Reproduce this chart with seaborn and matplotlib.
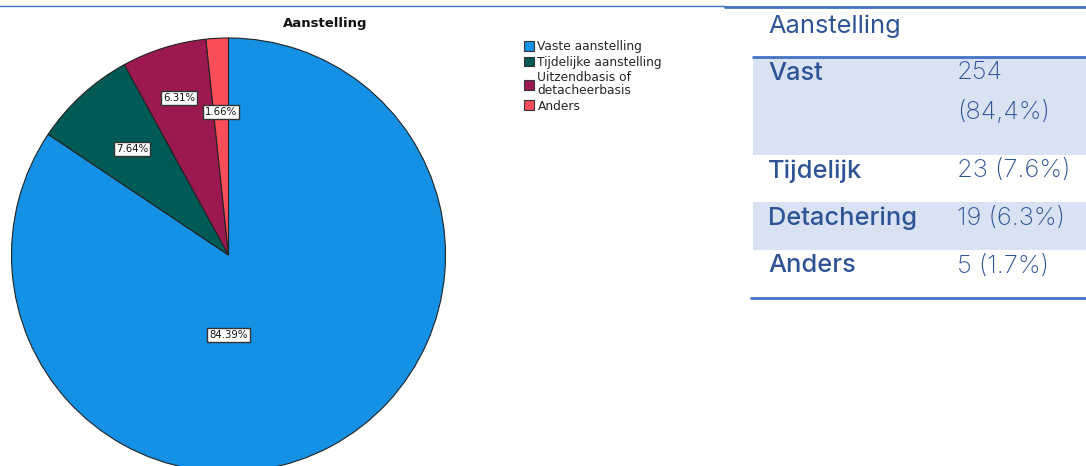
import matplotlib
matplotlib.use("Agg")
import matplotlib.pyplot as plt
import seaborn as sns
import numpy as np

# ---- data ----
categories = ["Vaste aanstelling", "Tijdelijke aanstelling",
              "Uitzendbasis of\ndetacheerbasis", "Anders"]
percentages = [84.39, 7.64, 6.31, 1.66]
pie_colors = ["#1490E4", "#005A55", "#9C1850", "#F94D5A"]
chart_title = "Aanstelling"

table_title = "Aanstelling"
table_labels = ["Vast", "Tijdelijk", "Detachering", "Anders"]
table_values = ["254\n(84,4%)", "23 (7.6%)", "19 (6.3%)", "5 (1.7%)"]

sns.set_theme(style="white")
plt.rcParams['font.family'] = ['DejaVu Sans']

W, H = 1086, 466
fig = plt.figure(figsize=(W / 100, H / 100), dpi=100)
fig.patch.set_facecolor("white")

# ---- pie axes ----
R = 217.0
cx, cy = 228.5, 255.0
ax = fig.add_axes([(cx - R) / W, (H - cy - R) / H, 2 * R / W, 2 * R / H])
wedges, _ = ax.pie(percentages, colors=pie_colors, startangle=90,
                   counterclock=False, radius=1.0,
                   wedgeprops=dict(edgecolor="#222222", linewidth=0.8))
ax.set_xlim(-1, 1)
ax.set_ylim(-1, 1)
ax.set_aspect("equal")
ax.axis("off")
for w in wedges:
    w.set_clip_on(False)

label_r = [0.37, 0.66, 0.76, 0.66]
for i, (w, p) in enumerate(zip(wedges, percentages)):
    if i == 0:
        ang = -90.0
    else:
        ang = (w.theta1 + w.theta2) / 2
    x = label_r[i] * np.cos(np.radians(ang))
    y = label_r[i] * np.sin(np.radians(ang))
    ax.text(x, y, f"{p:.2f}%", ha="center", va="center", fontsize=7.3,
            color="#111111",
            bbox=dict(boxstyle="square,pad=0.2", facecolor="white",
                      edgecolor="#333333", linewidth=1.0))

fig.text(325 / W, 1 - 24 / H, chart_title, ha="center", va="center",
         fontsize=9.5, fontweight="bold", color="#111111")

handles = [plt.Rectangle((0, 0), 1, 1, facecolor=c, edgecolor="#333333",
                         linewidth=0.8) for c in pie_colors]
fig.legend(handles, categories, loc="upper left",
           bbox_to_anchor=(524 / W, 1 - 40 / H), frameon=False,
           fontsize=8.8, handlelength=0.85, handleheight=0.85,
           handletextpad=0.25, labelspacing=0.22, borderaxespad=0,
           borderpad=0)
for t in fig.legends[0].get_texts():
    t.set_linespacing(0.95)

# ---- table ----
tab = fig.add_axes([0, 0, 1, 1])
tab.set_xlim(0, W)
tab.set_ylim(H, 0)
tab.axis("off")
line_col = "#4472C4"
text_col = "#2F5496"
val_col = "#2F5496"
band_col = "#D9E2F3"
tfont = "Inter"
fs = 18.3

tab.plot([0, 725], [6, 6], color=line_col, linewidth=1.0)
tab.plot([725, W], [7, 7], color=line_col, linewidth=2.0)

row_tops = [58, 155, 202, 250]
row_bots = [155, 202, 250, 298]
for i in range(len(table_labels)):
    if i % 2 == 0:
        tab.fill_between([753, W], row_tops[i], row_bots[i],
                         color=band_col, linewidth=0)
tab.plot([753, W], [57, 57], color=line_col, linewidth=2.0)
tab.plot([751, W], [298, 298], color=line_col, linewidth=2.0)

tab.text(768, 26, table_title, fontsize=fs, family=tfont,
         color=text_col, va="center", ha="left")
for i, (lab, val) in enumerate(zip(table_labels, table_values)):
    y0 = row_tops[i] + 16
    tab.text(768, y0, lab, fontsize=fs, family=tfont, fontweight="medium",
             color=text_col, va="center", ha="left")
    if "\n" in val:
        tab.text(957, y0 - 13, val, fontsize=fs, family=tfont,
                 fontweight="light", color=val_col, va="top", ha="left",
                 linespacing=1.85)
    else:
        tab.text(957, y0, val, fontsize=fs, family=tfont,
                 fontweight="light", color=val_col, va="center", ha="left")

fig.savefig("out.png", dpi=100, facecolor="white")
